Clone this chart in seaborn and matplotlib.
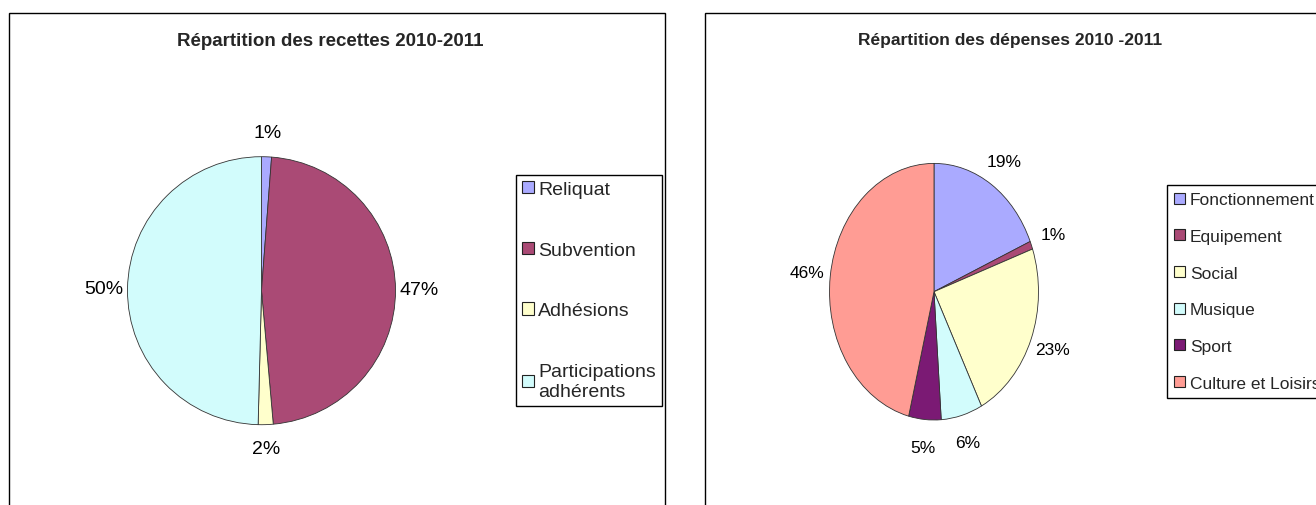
import matplotlib
matplotlib.use("Agg")
import matplotlib.pyplot as plt
import seaborn as sns
from matplotlib.patches import Rectangle

sns.set_theme(style="white")
plt.rcParams['font.family'] = ['Liberation Sans', 'DejaVu Sans']

# --- data ---
recettes_labels = ["Reliquat", "Subvention", "Adhésions", "Participations\nadhérents"]
recettes_values = [1.2, 47.4, 1.8, 49.6]
recettes_colors = ["#AAAAFF", "#AA4A75", "#FFFFCC", "#D2FCFC"]

depenses_labels = ["Fonctionnement", "Equipement", "Social", "Musique", "Sport", "Culture et Loisirs"]
depenses_values = [18.6, 1.0, 22.9, 6.4, 5.0, 46.1]
depenses_colors = ["#AAAAFF", "#AA4A75", "#FFFFCC", "#D2FCFC", "#7B1A74", "#FF9C94"]

W, H = 1316, 506
fig = plt.figure(figsize=(W / 100, H / 100), dpi=100)


def px_axes(cx, cy, rx, ry):
    # axes centred on the pie, pixel coords with y from the top
    w, h = 3 * rx, 3 * ry
    return fig.add_axes([(cx - w / 2) / W, (H - cy - h / 2) / H, w / W, h / H])


def draw_pie(ax, values, colors, pctdist, fontsize):
    wedges, _, autotexts = ax.pie(
        values, colors=colors, startangle=90, counterclock=False,
        autopct=lambda p: f"{p:.0f}%", pctdistance=pctdist,
        wedgeprops=dict(edgecolor="#333333", linewidth=0.6),
        textprops=dict(fontsize=fontsize, color="black"))
    ax.set_xlim(-1.5, 1.5)
    ax.set_ylim(-1.5, 1.5)
    ax.set_aspect("auto")
    ax.axis("off")
    return wedges


def draw_legend(ax, wedges, labels, x, y, fontsize, spacing, pad, textpad):
    leg = ax.legend(wedges, labels, loc="upper left",
                    bbox_to_anchor=(x / W, 1 - y / H), bbox_transform=fig.transFigure,
                    borderaxespad=0, frameon=True, fancybox=False, shadow=False,
                    handlelength=0.6, handleheight=0.6, handletextpad=textpad,
                    borderpad=pad, labelspacing=spacing,
                    prop=dict(size=fontsize))
    leg.get_frame().set_edgecolor("black")
    leg.get_frame().set_linewidth(1.0)
    leg.get_frame().set_alpha(1)
    for h in leg.legend_handles:
        h.set_edgecolor("#222222")
        h.set_linewidth(0.8)
    return leg


# chart frames
fig.patches.append(Rectangle((9 / W, -0.1), 656 / W, (H - 14) / H + 0.1,
                             transform=fig.transFigure, fill=False,
                             edgecolor="black", linewidth=1.0))
fig.patches.append(Rectangle((705 / W, -0.1), 700 / W, (H - 14) / H + 0.1,
                             transform=fig.transFigure, fill=False,
                             edgecolor="black", linewidth=1.0))

# left: recettes
ax1 = px_axes(261.5, 291.7, 134, 134)
w1 = draw_pie(ax1, recettes_values, recettes_colors, 1.18, 14)
draw_legend(ax1, w1, recettes_labels, 516, 176, 14, 2.25, 0.3, 0.25)
fig.text(330 / W, 1 - 41 / H, "Répartition des recettes 2010-2011",
         ha="center", va="center", fontsize=13.5, fontweight="bold")

# right: dépenses
ax2 = px_axes(934, 292.7, 104.5, 128.3)
w2 = draw_pie(ax2, depenses_values, depenses_colors, 1.22, 12.5)
draw_legend(ax2, w2, depenses_labels, 1167, 186, 12.5, 1.25, 0.42, 0.3)
fig.text(1010 / W, 1 - 41 / H, "Répartition des dépenses 2010 -2011",
         ha="center", va="center", fontsize=12.5, fontweight="bold")

fig.savefig("out.png", dpi=100, facecolor="white")
